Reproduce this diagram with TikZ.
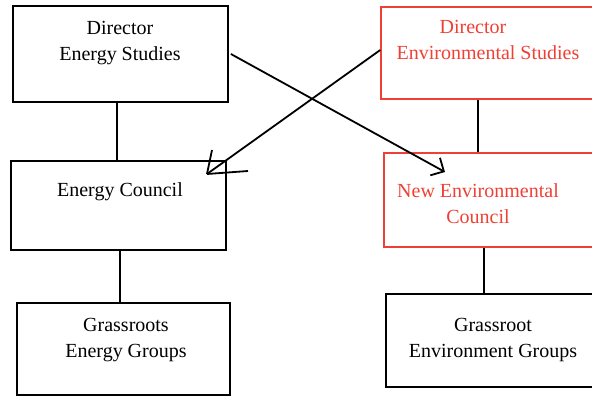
\documentclass[tikz,border=0pt]{standalone}
\usepackage{fontspec}
\setmainfont{Liberation Serif}
\usetikzlibrary{arrows.meta}
\definecolor{orgred}{RGB}{238,64,52}
\tikzset{
  box/.style={draw=black, line width=1.8pt, rectangle, inner sep=0pt},
  redbox/.style={box, draw=orgred, line width=1.5pt},
  lbl/.style={align=center, inner sep=0pt, anchor=north, font=\fontsize{20}{26.5}\selectfont},
  redlbl/.style={lbl, text=orgred},
  link/.style={line width=1.8pt},
}

\begin{document}
\begin{tikzpicture}[x=1pt, y=-1pt]
  \useasboundingbox (0,0) rectangle (592,396);
  \clip (0,0) rectangle (592,396);

  % boxes
  \node[box, minimum width=215pt, minimum height=96pt] (dirEnergy) at (120.5,54) {};
  \node[redbox, minimum width=219pt, minimum height=92pt] (dirEnv) at (490.5,53) {};
  \node[box, minimum width=215pt, minimum height=89pt] (enCouncil) at (118.5,205.5) {};
  \node[redbox, minimum width=216pt, minimum height=94pt] (envCouncil) at (492,200) {};
  \node[box, minimum width=213pt, minimum height=92pt] (enGroups) at (123.5,349) {};
  \node[box, minimum width=214pt, minimum height=93pt] (envGroups) at (493,340.5) {};

  % texts
  \node[lbl] (dirEnergyTxt) at (120,21) {Director\\Energy Studies};
  \node[redlbl] (dirEnvTxt) at (488,20) {Director\hspace*{30pt}\\Environmental Studies};
  \node[lbl] (enCouncilTxt) at (120,182) {Energy Council};
  \node[redlbl] (envCouncilTxt) at (478,183) {New Environmental\\Council};
  \node[lbl] (enGroupsTxt) at (126,318) {Grassroots\\Energy Groups};
  \node[lbl] (envGroupsTxt) at (493,318) {Grassroot\\Environment Groups};

  % hierarchy lines
  \draw[link] ([xshift=-3.5pt]dirEnergy.south) -- ([xshift=-3.5pt]dirEnergy.south |- enCouncil.north);
  \draw[link] ([xshift=-12.5pt]dirEnv.south) -- ([xshift=-12.5pt]dirEnv.south |- envCouncil.north);
  \draw[link] ([xshift=1.5pt]enCouncil.south) -- ([xshift=1.5pt]enCouncil.south |- enGroups.north);
  \draw[link] ([xshift=-8pt]envCouncil.south) -- ([xshift=-8pt]envCouncil.south |- envGroups.north);

  % crossing arrows
  \coordinate (tipA) at (445,172);
  \coordinate (tipB) at (207,174);
  \draw[link, -{Straight Barb[length=10pt,width=20pt]}] ([xshift=2pt]dirEnergy.east) -- (tipA);
  \draw[link] ([yshift=3pt]dirEnv.west) -- (tipB);
  \draw[link] (tipB) -- ++(5,-24) (tipB) -- ++(41,-3);

\end{tikzpicture}
\end{document}
